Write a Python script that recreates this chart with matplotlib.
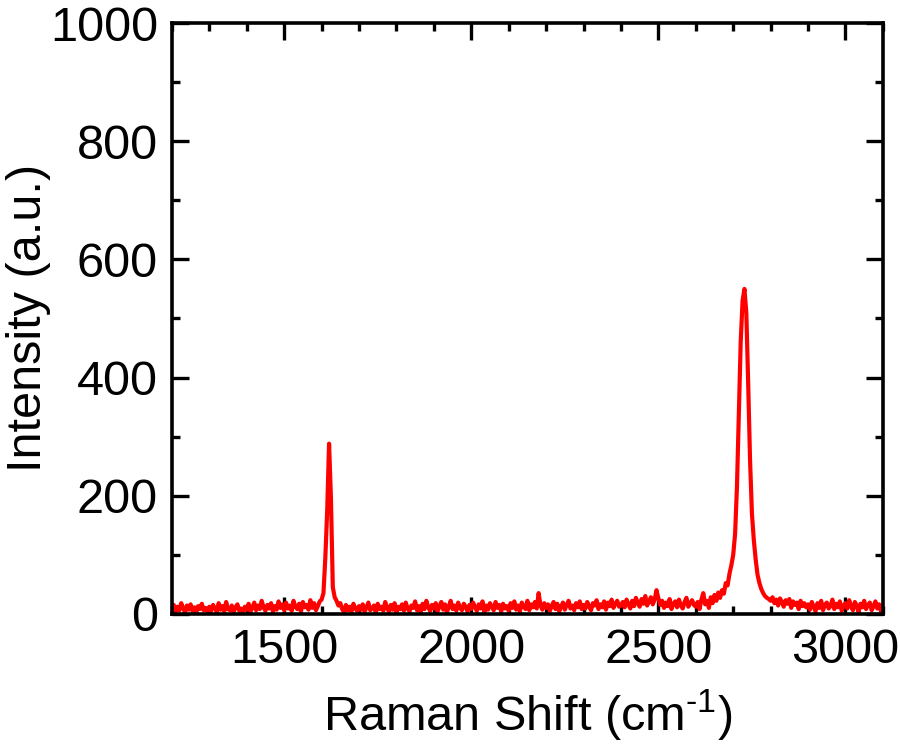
import numpy as np
import matplotlib
matplotlib.use("Agg")
import matplotlib.pyplot as plt
from matplotlib.ticker import MultipleLocator

plt.rcParams['font.family'] = ['Liberation Sans', 'DejaVu Sans']
plt.rcParams['mathtext.fontset'] = 'custom'
plt.rcParams['mathtext.rm'] = 'Liberation Sans'
plt.rcParams['mathtext.it'] = 'Liberation Sans'

# Raman shift grid, cm^-1 (5 cm^-1 step, 1200..3100)
shift = np.arange(1200, 3101, 5)

# intensity, one row per 100 cm^-1
intensity = [
    8, 15, 4, 12, 6, 18, 9, 3, 14, 7, 16, 5, 11, 2, 13, 8, 17, 6, 10, 4,          # 1200
    12, 5, 15, 9, 3, 18, 7, 13, 4, 20, 8, 6, 14, 3, 11, 16, 5, 9, 2, 12,          # 1300
    7, 17, 4, 10, 19, 6, 14, 8, 22, 11, 5, 15, 9, 18, 4, 13, 7, 21, 10, 16,       # 1400
    6, 19, 9, 14, 5, 22, 12, 8, 17, 4, 20, 11, 15, 7, 23, 10, 18, 6, 13, 21,      # 1500
    24, 35, 95, 175, 288, 195, 45, 28, 22, 14, 18, 8, 3, 15, 6, 12, 4, 17, 9, 5,  # 1600
    13, 7, 16, 3, 11, 19, 6, 9, 14, 2, 17, 8, 12, 5, 20, 10, 4, 15, 7, 18,        # 1700
    3, 12, 8, 16, 5, 19, 9, 4, 14, 10, 21, 6, 13, 3, 17, 8, 22, 11, 5, 15,        # 1800
    9, 18, 4, 13, 20, 7, 16, 3, 12, 22, 8, 14, 5, 19, 10, 6, 17, 12, 4, 15,       # 1900
    8, 19, 11, 5, 16, 9, 21, 3, 14, 7, 18, 12, 6, 20, 10, 15, 4, 17, 9, 13,       # 2000
    5, 18, 10, 21, 7, 14, 4, 19, 12, 8, 22, 6, 16, 11, 20, 9, 35, 14, 7, 18,      # 2100
    10, 16, 5, 13, 20, 8, 17, 4, 12, 19, 7, 15, 22, 9, 14, 6, 18, 11, 21, 8,      # 2200
    15, 9, 20, 12, 6, 18, 14, 23, 8, 16, 11, 21, 7, 19, 13, 24, 10, 17, 22, 12,   # 2300
    14, 20, 11, 24, 16, 9, 22, 13, 27, 18, 12, 25, 17, 30, 14, 21, 28, 16, 24, 40,  # 2400
    26, 15, 22, 10, 19, 13, 25, 8, 17, 21, 11, 24, 14, 9, 20, 27, 12, 18, 23, 15,   # 2500
    12, 20, 8, 24, 35, 16, 22, 10, 28, 18, 32, 22, 36, 27, 40, 34, 52, 48, 68, 82,  # 2600
    100, 135, 215, 340, 460, 530, 550, 510, 390, 260, 170, 125, 92, 66, 52, 42, 35, 30, 27, 25,  # 2700
    22, 28, 18, 24, 14, 26, 20, 12, 23, 17, 25, 10, 21, 15, 19, 8, 22, 13, 18, 11,  # 2800
    16, 7, 20, 12, 4, 18, 10, 22, 6, 15, 19, 9, 13, 24, 8, 17, 11, 21, 5, 14,       # 2900
    18, 9, 23, 12, 6, 20, 14, 3, 17, 11, 22, 8, 15, 19, 6, 13, 21, 9, 16, 4, 12,    # 3000
]

fig = plt.figure(figsize=(9, 7.44), dpi=100)
ax = fig.add_axes([0.191, 0.175, 0.790, 0.794])

ax.plot(shift, intensity, color='red', lw=3)

ax.set_xlim(1200, 3100)
ax.set_ylim(0, 1000)
ax.xaxis.set_major_locator(MultipleLocator(500))
ax.xaxis.set_minor_locator(MultipleLocator(100))
ax.yaxis.set_major_locator(MultipleLocator(200))
ax.yaxis.set_minor_locator(MultipleLocator(100))

ax.tick_params(which='both', direction='in', top=True, right=True, width=2.4,
               labelsize=35)
ax.tick_params(which='major', length=12, pad=10)
ax.tick_params(which='minor', length=6)
for sp in ax.spines.values():
    sp.set_linewidth(2.6)

ax.set_xlabel('Raman Shift (cm$^{\\text{-1}}$)', fontsize=35, labelpad=11)
ax.set_ylabel('Intensity (a.u.)', fontsize=35, labelpad=-1)

fig.savefig('out.png', dpi=100)
